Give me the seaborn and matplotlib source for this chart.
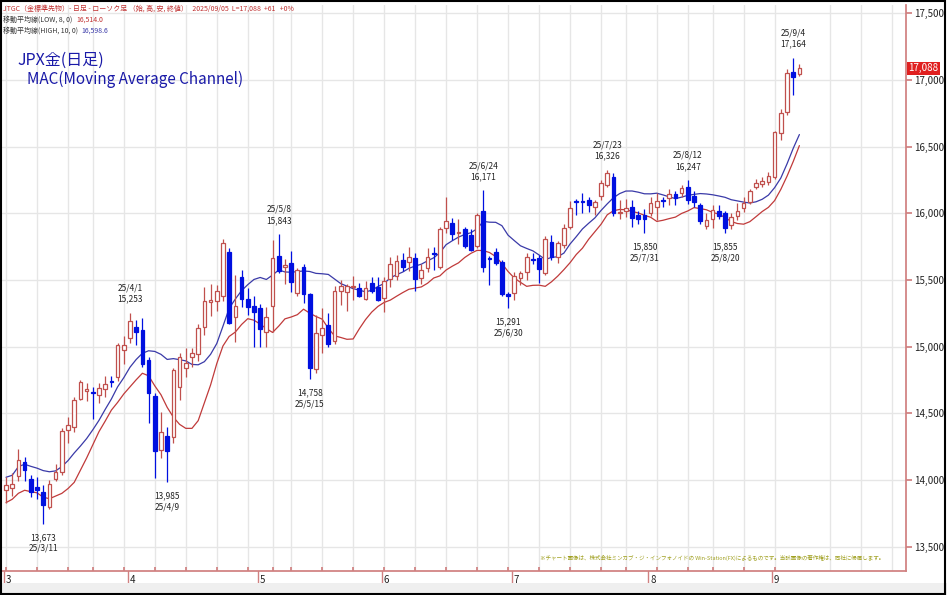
import numpy as np
import pandas as pd
import matplotlib
matplotlib.use("Agg")
import matplotlib.pyplot as plt
import seaborn as sns

# trading days (JP holidays removed)
holidays = ["2025-03-20", "2025-04-29", "2025-05-05", "2025-05-06", "2025-07-21", "2025-08-11"]
dates = [d for d in pd.bdate_range("2025-03-03", "2025-09-05") if d.strftime("%Y-%m-%d") not in holidays]

opens = [13925, 13940, 14030, 14135, 14010, 13950, 13910, 13800, 14010, 14060,
         14375, 14400, 14610, 14665, 14660, 14640, 14680, 14740, 14775, 14975,
         15065, 15150, 15125, 14900, 14630, 14225, 14330, 14320, 14700, 14840,
         14920, 14945, 15150, 15335, 15340, 15380, 15710, 15225, 15520, 15355,
         15305,
         15290, 15110, 15305, 15680, 15600, 15625, 15400, 15600, 15395, 14830,
         15090, 15160, 15040, 15415, 15410, 15445, 15440, 15355, 15480, 15450,
         15365, 15510, 15530, 15650, 15635, 15665, 15515, 15590, 15700, 15600,
         15890, 15930, 15850, 15880, 15840, 15755, 16020, 15665, 15710, 15635,
         15395,
         15400, 15515, 15560, 15655, 15665, 15550, 15785, 15675, 15760, 15900,
         16090, 16090, 16100, 16045, 16130, 16210, 16270, 16005, 16020, 16050,
         15990, 15990,
         16000, 16045, 16100, 16115, 16145, 16150, 16200, 16130, 16060, 15905,
         15960, 16020, 16000, 15910, 15980, 16040, 16085, 16200, 16220, 16235,
         16275, 16600, 16760, 17060, 17045]
closes = [13960, 13970, 14150, 14075, 13910, 13925, 13810, 13970, 14060, 14370,
          14410, 14600, 14735, 14680, 14650, 14690, 14720, 14735, 15010, 15015,
          15190, 15110, 14870, 14655, 14220, 14360, 14220, 14825, 14920, 14880,
          14955, 15140, 15340, 15350, 15415, 15775, 15180, 15305, 15355, 15300,
          15260,
          15130, 15225, 15665, 15570, 15610, 15485, 15575, 15395, 14840, 15100,
          15140, 15020, 15415, 15455, 15455, 15450, 15380, 15440, 15420, 15350,
          15490, 15620, 15640, 15600, 15675, 15505, 15575, 15675, 15695, 15880,
          15940, 15845, 15860, 15755, 15725, 15985, 15600, 15660, 15630, 15395,
          15380,
          15530, 15550, 15675, 15650, 15580, 15810, 15675, 15775, 15890, 16040,
          16085, 16085, 16060, 16085, 16225, 16300, 16000, 16010, 16040, 15965,
          15960, 15960,
          16075, 16090, 16095, 16145, 16115, 16190, 16100, 16085, 15940, 15950,
          16025, 15980, 15890, 15970, 16020, 16080, 16170, 16230, 16245, 16280,
          16610, 16750, 17050, 17025, 17088]
highs = [14020, 14050, 14230, 14170, 14040, 14020, 13960, 14000, 14120, 14390,
         14470, 14620, 14750, 14730, 14700, 14730, 14780, 14780, 15030, 15080,
         15253, 15200, 15215, 14920, 14650, 14510, 14400, 14840, 14950, 14990,
         14990, 15170, 15450, 15470, 15460, 15810, 15740, 15540, 15575, 15440,
         15380,
         15320, 15300, 15800, 15843, 15660, 15720, 15590, 15620, 15400, 15240,
         15290, 15250, 15455, 15500, 15470, 15530, 15480, 15490, 15520, 15520,
         15520, 15670, 15690, 15700, 15750, 15700, 15620, 15740, 15750, 15900,
         16125, 15965, 15960, 15900, 15880, 16000, 16171, 15680, 15740, 15650,
         15410,
         15560, 15570, 15700, 15700, 15690, 15830, 15840, 15790, 15920, 16095,
         16110, 16150, 16125, 16100, 16250, 16326, 16300, 16100, 16110, 16100,
         16020, 16030,
         16120, 16150, 16120, 16180, 16170, 16210, 16247, 16170, 16080, 16000,
         16060, 16060, 16020, 16000, 16080, 16120, 16180, 16260, 16270, 16310,
         16620, 16780, 17080, 17164, 17120]
lows = [13830, 13880, 13990, 13990, 13870, 13860, 13673, 13780, 13990, 14040,
        14280, 14360, 14600, 14590, 14460, 14580, 14620, 14700, 14740, 14870,
        15030, 15010, 14850, 14430, 14015, 14165, 13985, 14280, 14600, 14770,
        14850, 14890, 15090, 15230, 15270, 15340, 15170, 15035, 15300, 15240,
        15000,
        14995, 15000, 15110, 15550, 15470, 15410, 15380, 15330, 14758, 14800,
        14950, 15000, 15020, 15310, 15270, 15350, 15370, 15350, 15400, 15340,
        15260, 15450, 15500, 15570, 15570, 15420, 15470, 15560, 15575, 15580,
        15850, 15800, 15770, 15740, 15720, 15740, 15560, 15465, 15610, 15380,
        15291,
        15350, 15460, 15500, 15620, 15475, 15540, 15650, 15630, 15740, 15880,
        15990, 16000, 16010, 15990, 16100, 16200, 15980, 15960, 15970, 15900,
        15920, 15850,
        15980, 15950, 16050, 16060, 16060, 16120, 16070, 16050, 15920, 15880,
        15890, 15960, 15855, 15880, 15950, 16010, 16070, 16180, 16200, 16210,
        16260, 16550, 16740, 16890, 17030]

high_marks = [("25/4/1", 20), ("25/5/8", 44), ("25/6/24", 77), ("25/7/23", 97),
              ("25/8/12", 110), ("25/9/4", 127)]
low_marks = [("25/3/11", 6), ("25/4/9", 26), ("25/5/15", 49), ("25/6/30", 81),
             ("25/7/31", 103), ("25/8/20", 116)]
y_ticks = [13500, 14000, 14500, 15000, 15500, 16000, 16500, 17000, 17500]

df = pd.DataFrame({"date": dates, "open": opens, "high": highs, "low": lows, "close": closes})
df["i"] = np.arange(len(df))
df["ma_low"] = df["low"].rolling(8, min_periods=1).mean()
df["ma_high"] = df["high"].rolling(10, min_periods=1).mean()

sns.set_theme(style="white")
plt.rcParams["font.family"] = ["Noto Sans CJK JP", "DejaVu Sans"]

RED = "#c0504d"
BLUE = "#0010e0"
fig = plt.figure(figsize=(9.47, 5.95), dpi=100)
fig.patch.set_facecolor("white")
ax = fig.add_axes([2 / 947, 24 / 595, 904 / 947, 566 / 595])
ax.set_xlim(-0.65, 145.2)
ax.set_ylim(13317, 17562)

# grid
for y in y_ticks:
    ax.axhline(y, color="#e6e6e6", lw=1, zorder=0)
week_starts = df.groupby(df["date"].dt.to_period("W"))["i"].min().values
for x in week_starts:
    ax.axvline(x, color="#e6e6e6", lw=1, zorder=0)
for x in np.arange(df["i"].max() + 5, 145, 5):
    ax.axvline(x, color="#e6e6e6", lw=1, zorder=0)

# moving average channel
sns.lineplot(data=df, x="i", y="ma_high", color="#3a3aa8", lw=0.9, ax=ax, zorder=2)
sns.lineplot(data=df, x="i", y="ma_low", color="#c03a3a", lw=0.9, ax=ax, zorder=2)

# candles
up = df["close"] >= df["open"]
for mask, col, face in [(up, RED, "white"), (~up, BLUE, BLUE)]:
    d = df[mask]
    ax.vlines(d["i"], d["low"], d["high"], color=col, lw=0.9, zorder=3)
    body = (d["close"] - d["open"]).abs().clip(lower=8)
    ax.bar(d["i"], body, bottom=np.minimum(d["open"], d["close"]), width=0.6,
           color=face, edgecolor=col, linewidth=0.9, zorder=4)

for lab, k in high_marks:
    ax.text(k, df["high"][k] + 70, f"{lab}\n{df['high'][k]:,}", ha="center", va="bottom",
            fontsize=6, color="#222222", linespacing=1.3, zorder=5)
for lab, k in low_marks:
    ax.text(k, df["low"][k] - 70, f"{df['low'][k]:,}\n{lab}", ha="center", va="top",
            fontsize=6, color="#222222", linespacing=1.3, zorder=5)

# axes styling
ax.set_xlabel("")
ax.set_ylabel("")
for s in ["top", "left"]:
    ax.spines[s].set_visible(False)
ax.spines["right"].set_color("#d08080")
ax.spines["bottom"].set_color("#d08080")
ax.yaxis.tick_right()
ax.set_yticks(y_ticks)
ax.set_yticklabels([f"{v:,}" for v in y_ticks], fontsize=7, color="#222222")
ax.tick_params(axis="y", length=4, color="#d08080", pad=2, right=True)
month_first = df.groupby(df["date"].dt.month)["i"].min()
ax.set_xticks(week_starts)
ax.set_xticklabels([])
ax.tick_params(axis="x", length=3, color="#d08080", direction="in", bottom=True)
for m, k in month_first.items():
    ax.plot([k - 0.4, k - 0.4], [13317, 13317 - 90], color="#d08080", lw=1, clip_on=False)
    ax.text(k - 0.1, 13317 - 30, str(m), fontsize=7, va="top", ha="left", color="#222222")

# last price box
ax.text(145.6, closes[-1], f"{closes[-1]:,}", fontsize=7, color="white", va="center", ha="left",
        bbox=dict(boxstyle="square,pad=0.15", fc="#e02020", ec="none"), clip_on=False)

# header texts
fig.text(3 / 947, 1 - 9 / 595, "JTGC（金標準先物）- 日足 - ローソク足 （始, 高, 安, 終値）   2025/09/05  L=17,088  +61   +0%",
         fontsize=5, color="#c03030", va="center")
fig.text(3 / 947, 1 - 20 / 595, "移動平均線(LOW, 8, 0)", fontsize=5, color="#333333", va="center")
fig.text(76 / 947, 1 - 20 / 595, "16,514.0", fontsize=5, color="#c03030", va="center")
fig.text(3 / 947, 1 - 31 / 595, "移動平均線(HIGH, 10, 0)", fontsize=5, color="#333333", va="center")
fig.text(81 / 947, 1 - 31 / 595, "16,598.6", fontsize=5, color="#3a3aa8", va="center")
fig.text(17 / 947, 1 - 60 / 595, "JPX金(日足)", fontsize=11.5, color="#1a1aa8", va="center")
fig.text(27 / 947, 1 - 79 / 595, "MAC(Moving Average Channel)", fontsize=11, color="#1a1aa8", va="center")
fig.text(540 / 947, 1 - 558 / 595,
         "※チャート画像は、株式会社ミンカブ・ジ・インフォノイドの Win-Station(FX)によるものです。当該画像の著作権は、同社に帰属します。",
         fontsize=4, color="#a0a020", va="center")

# bottom strip and frame
fig.patches.append(plt.Rectangle((0, 0), 1, 12 / 595, transform=fig.transFigure, fc="#efefef", ec="none"))
fig.patches.append(plt.Rectangle((0.001, 0.002), 0.997, 0.996, transform=fig.transFigure,
                                 fill=False, ec="black", lw=1.5))

fig.savefig("out.png", dpi=100)
